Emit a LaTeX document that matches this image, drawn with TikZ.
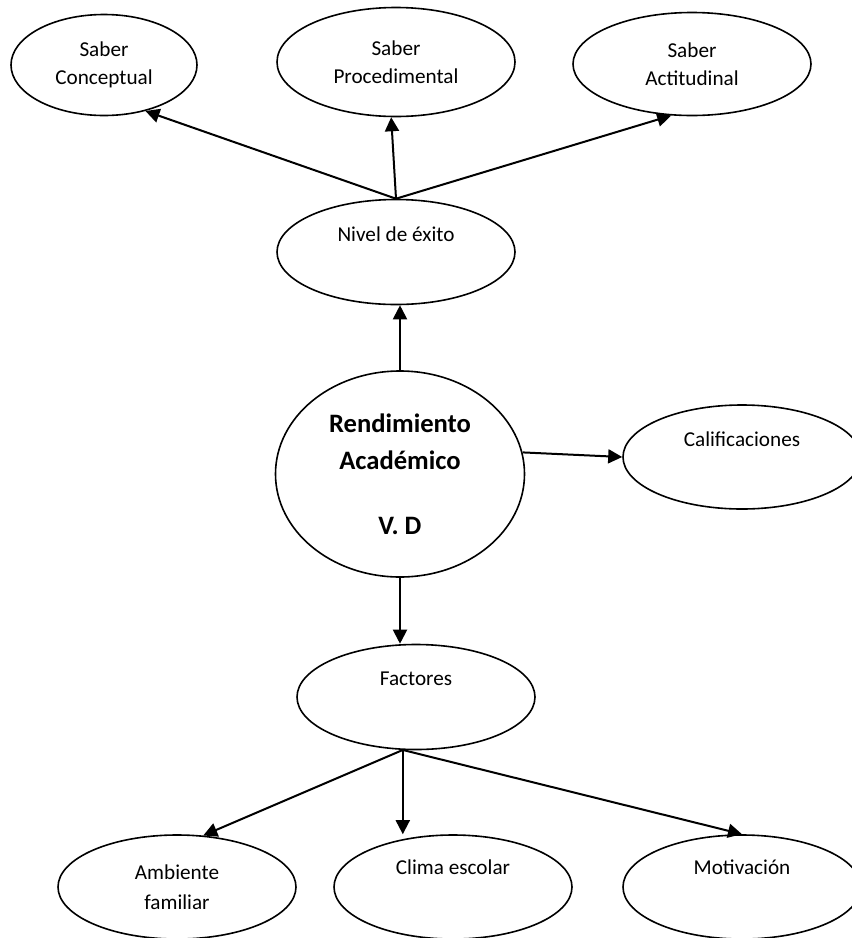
\documentclass[tikz,border=0pt]{standalone}
\usepackage{fontspec}
\setmainfont{Carlito}
\usetikzlibrary{shapes.geometric,arrows.meta}
\begin{document}
\begin{tikzpicture}[x=0.5pt,y=-0.5pt,
    burbuja/.style={ellipse,draw,line width=0.8pt,inner sep=0pt,minimum width=119pt,minimum height=52.5pt,align=center,font=\fontsize{10.6}{14}\selectfont},
    flecha/.style={line width=1pt,-{Triangle[length=7pt,width=7pt]}}]
    \useasboundingbox (0,0) rectangle (852,938);
    \node[burbuja,minimum width=93pt,minimum height=50.5pt] (conceptual) at (104,65) {Saber\\Conceptual};
    \node[burbuja,minimum height=54.5pt] (procedimental) at (396,62) {Saber\\Procedimental};
    \node[burbuja,minimum height=51.5pt] (actitudinal) at (692,64) {Saber\\Actitudinal};
    \node[burbuja] (nivel) at (396,252) {Nivel de éxito\\\strut};
    \node[burbuja,minimum width=124.5pt,minimum height=103pt,font=\fontsize{13.3}{18.5}\selectfont\bfseries] (rendimiento) at (400,474) {Rendimiento\\Académico\\[14pt]V. D};
    \node[burbuja,minimum height=52pt] (calificaciones) at (742,457) {Calificaciones\\\strut};
    \node[burbuja] (factores) at (416,697) {Factores\\\strut};
    \node[burbuja,minimum height=52pt,font=\fontsize{10.6}{15}\selectfont] (ambiente) at (177,887) {Ambiente\\familiar};
    \node[burbuja,minimum height=52pt,font=\fontsize{10.6}{15}\selectfont] (clima) at (453,887) {Clima escolar\\\strut};
    \node[burbuja,minimum height=52pt,font=\fontsize{10.6}{15}\selectfont] (motivacion) at (742,887) {Motivación\\\strut};
    \draw[flecha] (nivel.north) -- (conceptual.-48);
    \draw[flecha] (nivel.north) -- (procedimental.-95);
    \draw[flecha] (nivel.north) -- (actitudinal.-112);
    \draw[flecha] (rendimiento.north) -- (rendimiento.north |- nivel.south);
    \draw[flecha] (rendimiento.10) -- (calificaciones.west);
    \draw[flecha] (rendimiento.south) -- (rendimiento.south |- factores.north);
    \draw[flecha] (factores.-104) -- (ambiente.63);
    \draw[flecha] (factores.-104) -- (factores.-104 |- clima.north);
    \draw[flecha] (factores.-104) -- (motivacion.north);
\end{tikzpicture}
\end{document}
